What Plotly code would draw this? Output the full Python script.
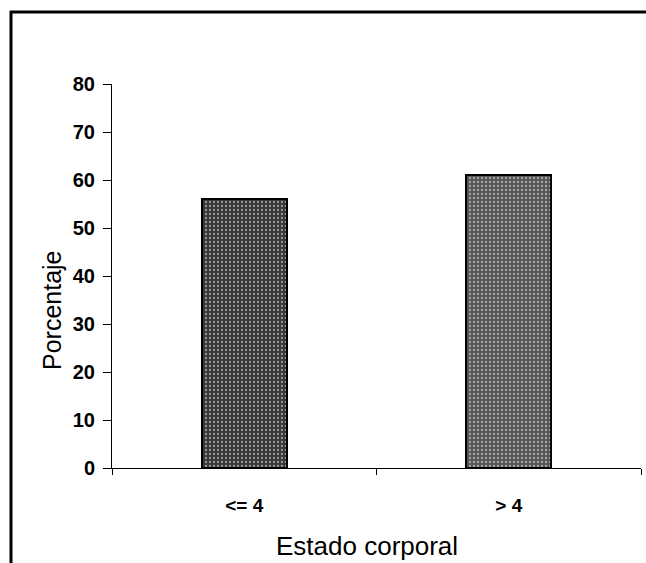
import plotly.graph_objects as go

categories = ["<= 4", "> 4"]
values = [56, 61]
bar_colors = ["#383838", "#555555"]
y_ticks = [0, 10, 20, 30, 40, 50, 60, 70, 80]

fig = go.Figure()
fig.add_trace(go.Bar(
    x=categories, y=values, width=0.32,
    marker=dict(color=bar_colors,
                line=dict(color="black", width=2),
                pattern=dict(shape=".", fgcolor="#b0b0b0", size=4, solidity=0.25)),
))

L, R, T, B = 112, 5, 84, 95
W, H = 646, 563
pw, ph = W - L - R, H - T - B

def px(x):
    return (x - L) / pw

def py(y):
    return (H - B - y) / ph

fig.update_layout(
    width=W, height=H,
    margin=dict(l=L, r=R, t=T, b=B),
    paper_bgcolor="white", plot_bgcolor="white",
    showlegend=False,
    font=dict(family="Liberation Sans, Arial", color="black"),
    bargap=0,
    shapes=[
        dict(type="line", xref="paper", yref="paper", x0=px(11), x1=px(11), y0=py(570), y1=py(11),
             line=dict(color="black", width=3)),
        dict(type="line", xref="paper", yref="paper", x0=px(10), x1=px(660), y0=py(12), y1=py(12),
             line=dict(color="black", width=3)),
    ],
    annotations=[
        dict(text="Porcentaje", xref="paper", yref="paper", x=px(52), y=py(310),
             xanchor="center", yanchor="middle", textangle=-90, showarrow=False,
             font=dict(size=25)),
        dict(text="Estado corporal", xref="paper", yref="paper", x=px(367), y=py(546),
             xanchor="center", yanchor="middle", showarrow=False,
             font=dict(size=26)),
    ],
)
fig.update_yaxes(
    range=[0, 80], tickvals=y_ticks, showline=True, linecolor="black", linewidth=1,
    ticks="outside", ticklen=8, tickcolor="black", showgrid=False, zeroline=False,
    tickfont=dict(size=20, family="Liberation Sans, Arial", weight="bold"),
    ticklabelstandoff=4,
)
fig.update_xaxes(
    range=[-0.5, 1.5], showline=True, linecolor="black", linewidth=1,
    ticks="outside", ticklen=6, tickcolor="black", tickson="boundaries", showgrid=False,
    tickfont=dict(size=19, family="Liberation Sans, Arial", weight="bold"),
    ticklabelstandoff=20,
)

fig.write_html("out.html")
